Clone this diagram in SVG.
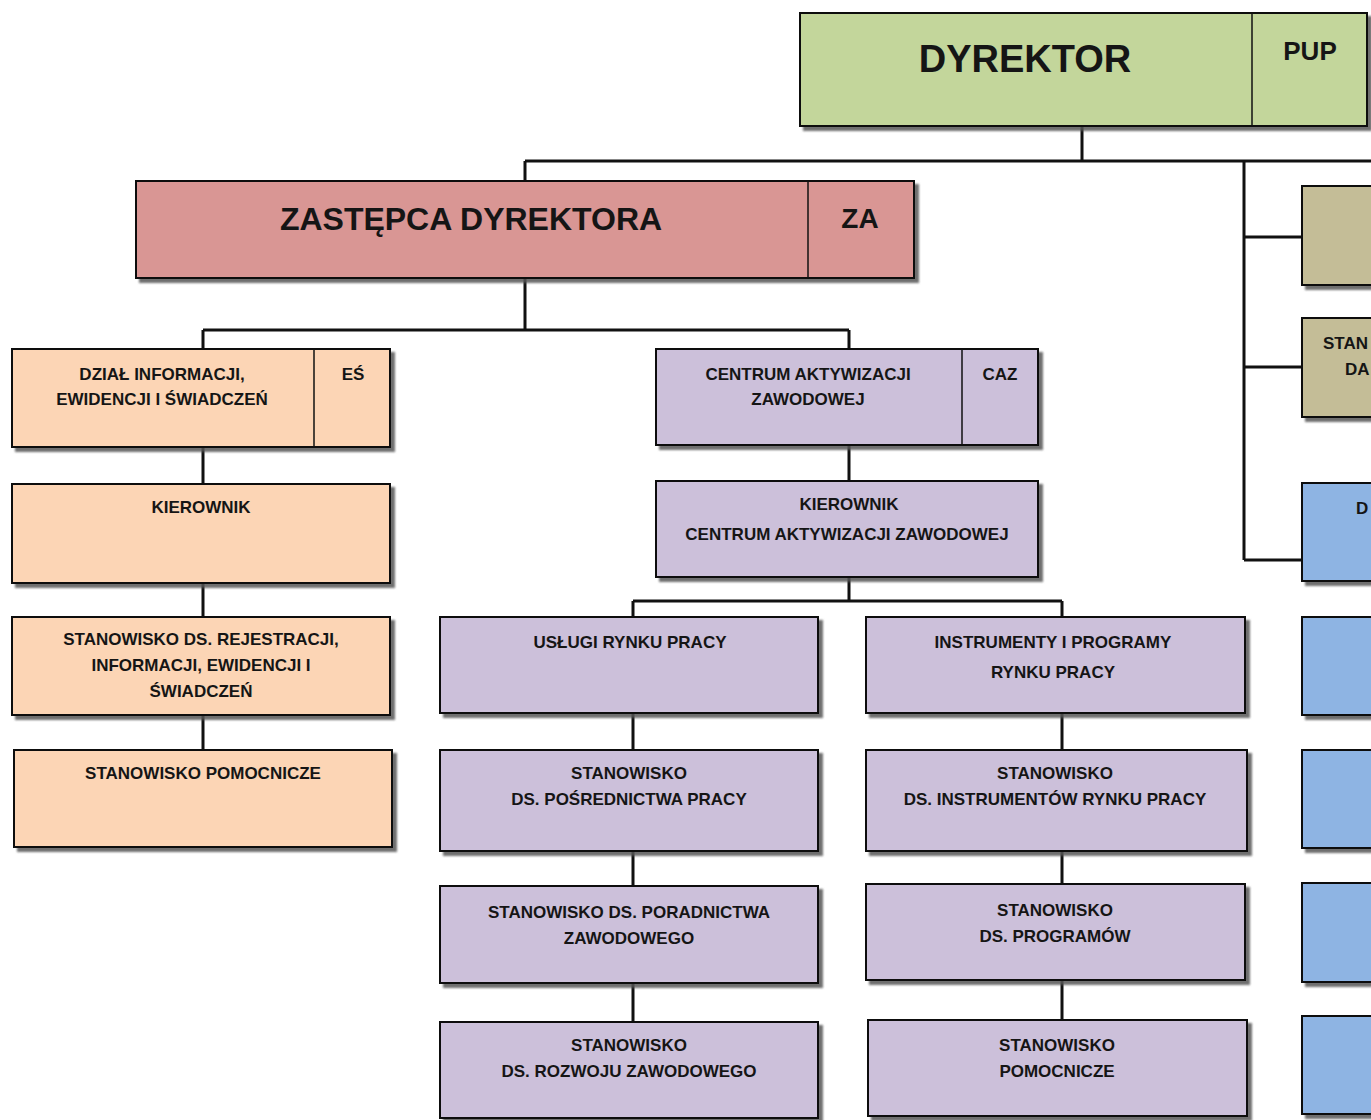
<svg xmlns="http://www.w3.org/2000/svg" width="1371" height="1120" viewBox="0 0 1371 1120">
<defs>
<filter id="sh" x="-5%" y="-5%" width="115%" height="125%">
<feDropShadow dx="4" dy="4" stdDeviation="1" flood-color="#555" flood-opacity="0.85"/>
</filter>
</defs>
<style>
.box{stroke:#111;stroke-width:2;filter:url(#sh)}
.div{stroke:#111;stroke-width:1.5}
.g{fill:#c3d69b}.r{fill:#d99694}.o{fill:#fcd5b5}.p{fill:#ccc0da}.t{fill:#c4bd97}.b{fill:#8eb4e3}
text{font-family:"Liberation Sans",Arial,sans-serif;font-weight:bold;fill:#151515;text-anchor:middle}
.s{font-size:17px}
.st{text-anchor:start}
.con{stroke:#111;stroke-width:3;fill:none}
</style>
<rect width="1371" height="1120" fill="#fff"/>
<g id="connectors">
<path class="con" d="M1082 126V161M525 161H1371M525 161V181M1244 161V560M1244 237H1302M1244 367H1302M1244 560H1302"/>
<path class="con" d="M525 278V330M203 330H849M203 330V349M849 330V349"/>
<path class="con" d="M203 447V484M203 583V617M203 715V750"/>
<path class="con" d="M849 445V481M849 577V601M633 601H1062M633 601V617M1062 601V617"/>
<path class="con" d="M633 713V750M633 851V886M633 983V1022M1062 713V750M1062 851V884M1062 980V1020"/>
</g>
<g id="dyrektor">
<rect class="box g" x="800" y="13" width="567" height="113"/>
<line class="div" x1="1252" y1="13" x2="1252" y2="126"/>
<text x="1025" y="72" font-size="38">DYREKTOR</text>
<text x="1310" y="60" font-size="26">PUP</text>
</g>
<g id="zastepca">
<rect class="box r" x="136" y="181" width="778" height="97"/>
<line class="div" x1="808" y1="181" x2="808" y2="278"/>
<text x="471" y="230" font-size="32">ZASTĘPCA DYREKTORA</text>
<text x="860" y="228" font-size="28">ZA</text>
</g>
<g id="dzial-es">
<rect class="box o" x="12" y="349" width="378" height="98"/>
<line class="div" x1="314" y1="349" x2="314" y2="447"/>
<text class="s" x="162" y="380">DZIAŁ INFORMACJI,</text>
<text class="s" x="162" y="405">EWIDENCJI I ŚWIADCZEŃ</text>
<text class="s" x="353" y="380">EŚ</text>
</g>
<g id="kierownik-es">
<rect class="box o" x="12" y="484" width="378" height="99"/>
<text class="s" x="201" y="513">KIEROWNIK</text>
</g>
<g id="st-rejestracji">
<rect class="box o" x="12" y="617" width="378" height="98"/>
<text class="s" x="201" y="645">STANOWISKO DS. REJESTRACJI,</text>
<text class="s" x="201" y="671">INFORMACJI, EWIDENCJI I</text>
<text class="s" x="201" y="697">ŚWIADCZEŃ</text>
</g>
<g id="st-pomocnicze-es">
<rect class="box o" x="14" y="750" width="378" height="97"/>
<text class="s" x="203" y="779">STANOWISKO POMOCNICZE</text>
</g>
<g id="caz">
<rect class="box p" x="656" y="349" width="382" height="96"/>
<line class="div" x1="962" y1="349" x2="962" y2="445"/>
<text class="s" x="808" y="380">CENTRUM AKTYWIZACJI</text>
<text class="s" x="808" y="405">ZAWODOWEJ</text>
<text class="s" x="1000" y="380">CAZ</text>
</g>
<g id="kierownik-caz">
<rect class="box p" x="656" y="481" width="382" height="96"/>
<text class="s" x="849" y="510">KIEROWNIK</text>
<text class="s" x="847" y="540">CENTRUM AKTYWIZACJI ZAWODOWEJ</text>
</g>
<g id="uslugi">
<rect class="box p" x="440" y="617" width="378" height="96"/>
<text class="s" x="630" y="648">USŁUGI RYNKU PRACY</text>
</g>
<g id="instrumenty">
<rect class="box p" x="866" y="617" width="379" height="96"/>
<text class="s" x="1053" y="648">INSTRUMENTY I PROGRAMY</text>
<text class="s" x="1053" y="678">RYNKU PRACY</text>
</g>
<g id="st-posrednictwa">
<rect class="box p" x="440" y="750" width="378" height="101"/>
<text class="s" x="629" y="779">STANOWISKO</text>
<text class="s" x="629" y="805">DS. POŚREDNICTWA PRACY</text>
</g>
<g id="st-instrumentow">
<rect class="box p" x="866" y="750" width="381" height="101"/>
<text class="s" x="1055" y="779">STANOWISKO</text>
<text class="s" x="1055" y="805">DS. INSTRUMENTÓW RYNKU PRACY</text>
</g>
<g id="st-poradnictwa">
<rect class="box p" x="440" y="886" width="378" height="97"/>
<text class="s" x="629" y="918">STANOWISKO DS. PORADNICTWA</text>
<text class="s" x="629" y="944">ZAWODOWEGO</text>
</g>
<g id="st-programow">
<rect class="box p" x="866" y="884" width="379" height="96"/>
<text class="s" x="1055" y="916">STANOWISKO</text>
<text class="s" x="1055" y="942">DS. PROGRAMÓW</text>
</g>
<g id="st-rozwoju">
<rect class="box p" x="440" y="1022" width="378" height="96"/>
<text class="s" x="629" y="1051">STANOWISKO</text>
<text class="s" x="629" y="1077">DS. ROZWOJU ZAWODOWEGO</text>
</g>
<g id="st-pomocnicze-caz">
<rect class="box p" x="868" y="1020" width="379" height="96"/>
<text class="s" x="1057" y="1051">STANOWISKO</text>
<text class="s" x="1057" y="1077">POMOCNICZE</text>
</g>
<g id="right-1">
<rect class="box t" x="1302" y="186" width="90" height="99"/>
</g>
<g id="right-2">
<rect class="box t" x="1302" y="318" width="90" height="99"/>
<text class="s st" x="1323" y="349">STAN</text>
<text class="s st" x="1345" y="375">DA</text>
</g>
<g id="right-3">
<rect class="box b" x="1302" y="483" width="90" height="98"/>
<text class="s st" x="1356" y="514">D</text>
</g>
<g id="right-4">
<rect class="box b" x="1302" y="617" width="90" height="98"/>
</g>
<g id="right-5">
<rect class="box b" x="1302" y="750" width="90" height="98"/>
</g>
<g id="right-6">
<rect class="box b" x="1302" y="883" width="90" height="99"/>
</g>
<g id="right-7">
<rect class="box b" x="1302" y="1016" width="90" height="98"/>
</g>
</svg>
